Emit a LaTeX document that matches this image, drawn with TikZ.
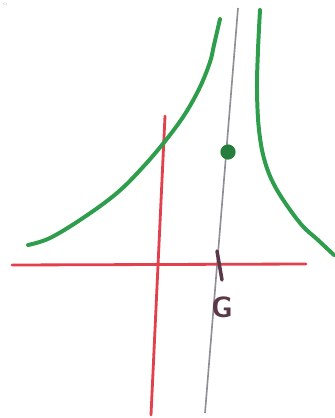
\documentclass[tikz,border=0pt]{standalone}
\usepackage{tikz}
\usetikzlibrary{positioning,calc}

\definecolor{penGreen}{HTML}{2E9E4C}
\definecolor{penRed}{HTML}{E2404C}
\definecolor{penGray}{HTML}{8E8E96}
\definecolor{penDark}{HTML}{5A3848}

\begin{document}
\begin{tikzpicture}[
  x=0.03cm, y=-0.03cm,
  curve/.style={penGreen, line width=3.4pt, line cap=round, line join=round},
  axis/.style={penRed, line width=2.4pt, line cap=round},
  asym/.style={penGray, line width=1.4pt},
  tick/.style={penDark, line width=3pt, line cap=round}
]
\useasboundingbox (0,0) rectangle (334,418);

% asymptote and axes
\coordinate (asymtop) at (238,8);
\coordinate (asymbot) at (205,413);
\draw[asym] (asymtop) -- (asymbot);
\coordinate (xleft) at (12,265);
\coordinate (xright) at (306,264);
\draw[axis] (xleft) -- (xright);
\coordinate (ytop) at (165,116);
\coordinate (ybot) at (151,415);
\draw[axis] (ytop) -- (ybot);

% branches
\draw[curve] plot[smooth, tension=0.6] coordinates {(28,245) (50,238) (83,218)
  (117,193) (143,167) (166,140) (185,114) (200,87) (210,62) (214,45) (220,19)};
\draw[curve] plot[smooth, tension=0.6] coordinates {(260,10) (258,50) (257,90)
  (259,130) (265,162) (277,190) (300,223) (318,240) (334,255)};

% point and mark
\node[circle, fill=penGreen!80!black, inner sep=0pt, minimum size=13pt] (pt) at (228,152) {};
\coordinate (ticktop) at (217,251);
\coordinate (tickbot) at (222,280);
\draw[tick] (ticktop) -- (tickbot);
\node[penDark, font=\fontsize{25}{25}\selectfont\sffamily\bfseries, inner sep=0pt] (glabel) at (222,307) {G};

\node[penGray!70, font=\tiny] (dot) at (5,4) {o};
\end{tikzpicture}
\end{document}
